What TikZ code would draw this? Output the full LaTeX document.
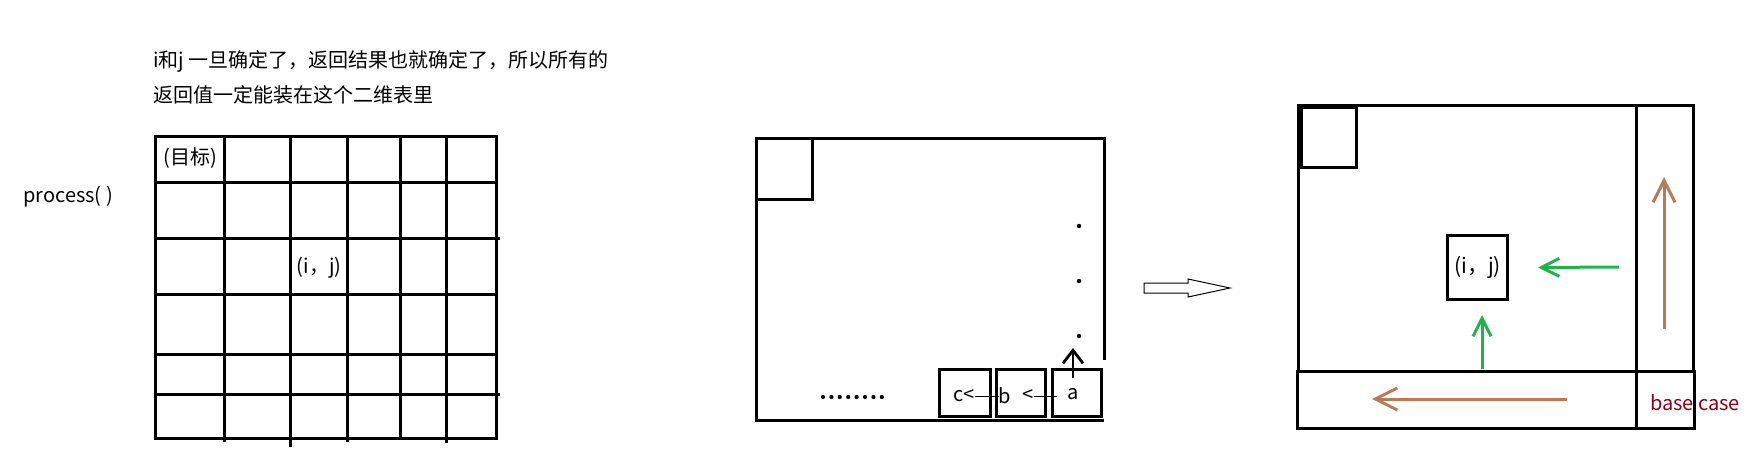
\documentclass[tikz,border=0pt]{standalone}
\usepackage{fontspec}
\setmainfont{Noto Sans CJK SC}
\usetikzlibrary{arrows.meta}
\definecolor{pbrown}{HTML}{B97A57}
\definecolor{pgreen}{HTML}{22B14C}
\definecolor{pred}{HTML}{880015}
\tikzset{
  bold/.style={line width=3pt},
  txt/.style={inner sep=0pt, font=\fontsize{20}{23}\selectfont},
  cjktxt/.style={inner sep=0pt, font=\fontsize{20}{24}\selectfont},
  cellbox/.style={draw, line width=3pt, inner sep=0pt, minimum height=47pt},
  thinline/.style={line width=1pt},
  dotmark/.style={fill=black},
  garrow/.style={draw=pgreen, line width=3pt, -{Straight Barb[length=18pt,width=18pt]}},
  barrow/.style={draw=pbrown, line width=3pt, -{Straight Barb[length=22pt,width=22pt]}},
}
\begin{document}
\begin{tikzpicture}[x=1pt,y=-1pt]
\useasboundingbox (0,0) rectangle (1760,472);
\fill[white] (0,0) rectangle (1760,472);

% ---------------- left figure ----------------
\node[cjktxt, anchor=west] (hdr1) at (153,61) {i和j 一旦确定了，返回结果也就确定了，所以所有的};
\node[cjktxt, anchor=west] (hdr2) at (153,95) {返回值一定能装在这个二维表里};
\node[txt] (proc) at (68,197) {process( )};

\draw[bold] (155,136) rectangle (496,438);
\foreach \x in {224,290,347,400,446} \draw[bold] (\x,136) -- (\x,438);
\foreach \y in {182,238,294,354,394} \draw[bold] (155,\y) -- (496,\y);
\draw[bold] (496,238) -- (500,238);
\draw[bold] (496,354) -- (498,354);
\draw[bold] (496,394) -- (500,394);
\draw[bold] (224,438) -- (224,442);
\draw[bold] (290,438) -- (290,447);
\draw[bold] (347,438) -- (347,442);
\draw[bold] (400,438) -- (400,440);
\draw[bold] (446,438) -- (446,443);

\node[txt] (goal) at (190,158) {(目标)};
\node[txt] (ij1) at (319,268) {(i，j)};

% ---------------- middle figure ----------------
\draw[bold] (1104,360) -- (1104,138) -- (756,138) -- (756,420) -- (1104,420);
\draw[bold] (756,199) -| (812,138);

\node[cellbox, minimum width=51pt] (boxc) at (965,393) {};
\node[cellbox, minimum width=49pt] (boxb) at (1021,393) {};
\node[cellbox, minimum width=49pt] (boxa) at (1077,393) {};

\node[txt] (tc) at (964,396) {c<};
\node[txt] (tb) at (1005,396) {b};
\node[txt] (tlt) at (1028,396) {<};
\node[txt] (ta) at (1073,394) {a};
\draw[thinline] (tc.east) -- (tb.west);
\draw[thinline] (tlt.east) -- (1057,396);
\draw[line width=1.2pt, -{Straight Barb[length=13pt,width=20pt,line width=2.8pt]}] (1073,378) -- (1073,348);

\foreach \y in {226,281,336} \fill[dotmark] (1079,\y) circle (2.2);
\foreach \i in {0,...,7} \fill[dotmark] (823+8.4*\i,397) circle (2.1);

% hollow arrow
\draw[line width=1pt, line join=miter] (1144,283) -- (1188,283) -- (1188,279) -- (1230,288) -- (1188,297) -- (1188,293) -- (1144,293) -- cycle;

% ---------------- right figure ----------------
\draw[bold] (1298,371) |- (1636,105);
\node[draw, line width=3pt, minimum width=57pt, minimum height=266pt, inner sep=0pt] (col) at (1664.5,238) {};
\node[draw, line width=3pt, minimum width=397pt, minimum height=57pt, inner sep=0pt] (strip) at (1495.5,399.5) {};
\draw[bold] (1636,371) -- (1636,428);
\draw[bold] (1300,107) rectangle (1356,167);
\draw[line width=5pt] (1300,167) |- (1356,106);

\node[draw, line width=3pt, minimum width=60pt, minimum height=64pt, inner sep=0pt,
      font=\fontsize{21}{24}\selectfont] (ijbox) at (1477.5,267.5) {(i，j)};

\coordinate (gstart) at (1482,369);
\coordinate (gend) at (1482,315);
\draw[garrow] (gstart) -- (gend);
\coordinate (g2start) at (1619,267);
\draw[garrow] (g2start) -- ([xshift=29pt]ijbox.east);

\coordinate (bstart) at (1567,399);
\coordinate (bend) at (1372,399);
\draw[barrow] (bstart) -- (bend);
\coordinate (b2start) at (1664,329);
\coordinate (b2end) at (1664,177);
\draw[barrow] (b2start) -- (b2end);

\node[txt, text=pred, font=\fontsize{20}{24}\selectfont] (base) at (1695,403) {base case};
\end{tikzpicture}
\end{document}
